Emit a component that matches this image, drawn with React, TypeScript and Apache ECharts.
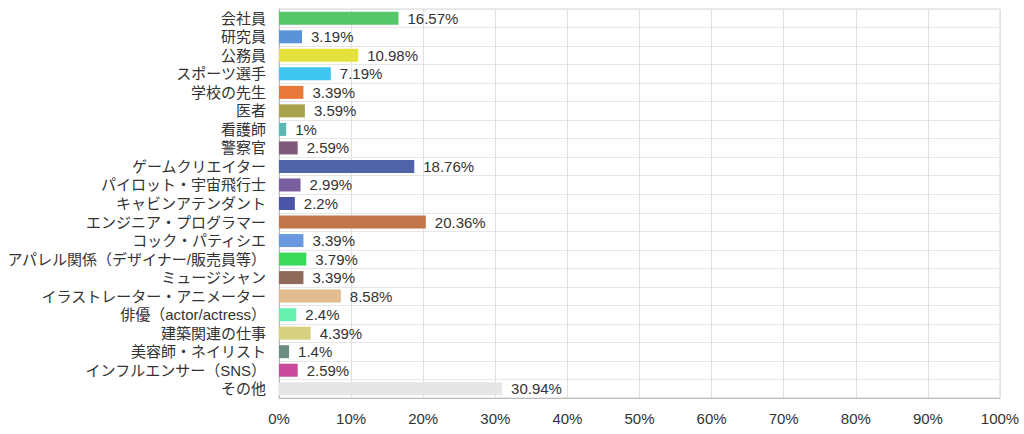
import React, { useEffect, useRef } from "react";
import * as echarts from "echarts";

const categories = [
  "会社員",
  "研究員",
  "公務員",
  "スポーツ選手",
  "学校の先生",
  "医者",
  "看護師",
  "警察官",
  "ゲームクリエイター",
  "パイロット・宇宙飛行士",
  "キャビンアテンダント",
  "エンジニア・プログラマー",
  "コック・パティシエ",
  "アパレル関係（デザイナー/販売員等）",
  "ミュージシャン",
  "イラストレーター・アニメーター",
  "俳優（actor/actress）",
  "建築関連の仕事",
  "美容師・ネイリスト",
  "インフルエンサー（SNS）",
  "その他",
];

const values = [
  16.57, 3.19, 10.98, 7.19, 3.39, 3.59, 1, 2.59, 18.76, 2.99, 2.2, 20.36, 3.39,
  3.79, 3.39, 8.58, 2.4, 4.39, 1.4, 2.59, 30.94,
];

const colors = [
  "#55c66a",
  "#5b93d9",
  "#e4e03c",
  "#3ec6ee",
  "#e8793a",
  "#a8a24a",
  "#5cb8b0",
  "#7e5a78",
  "#4f63a6",
  "#7a5fa0",
  "#4a55a8",
  "#c1754a",
  "#6a98e0",
  "#3ada5a",
  "#8f6a5a",
  "#e0bc8e",
  "#66f0b0",
  "#d6d080",
  "#6a8e80",
  "#c8489a",
  "#e6e6e6",
];

const xTicks = [0, 10, 20, 30, 40, 50, 60, 70, 80, 90, 100];

const FONT = "Arial, 'Liberation Sans', 'Noto Sans CJK JP', sans-serif";

export default function App() {
  const ref = useRef<HTMLDivElement>(null);
  useEffect(() => {
    document.body.style.margin = "0";
    if (!ref.current) return;
    const chart = echarts.init(ref.current, undefined, { renderer: "svg" });
    chart.setOption({
      animation: false,
      grid: {
        left: 279,
        right: 24,
        top: 9,
        bottom: 36,
        show: true,
        borderColor: "#d6d6d6",
        borderWidth: 1,
      },
      xAxis: {
        type: "value",
        min: xTicks[0],
        max: xTicks[xTicks.length - 1],
        interval: 10,
        axisLine: { show: true, lineStyle: { color: "#bbbbbb" } },
        axisTick: { show: false },
        splitLine: { show: true, lineStyle: { color: "#e0e0e0" } },
        axisLabel: {
          formatter: (v: number) => v + "%",
          color: "#333",
          fontSize: 15,
          fontFamily: FONT,
          margin: 13,
        },
      },
      yAxis: {
        type: "category",
        data: categories,
        inverse: true,
        axisLine: { show: true, lineStyle: { color: "#bbbbbb" } },
        axisTick: { show: false },
        splitLine: { show: true, lineStyle: { color: "#e6e6e6" } },
        axisLabel: {
          color: "#333",
          fontSize: 15,
          fontFamily: FONT,
          margin: 13,
          interval: 0,
        },
      },
      series: [
        {
          type: "bar",
          data: values.map((v, i) => ({ value: v, itemStyle: { color: colors[i] } })),
          barWidth: 13,
          label: {
            show: true,
            position: "right",
            distance: 9,
            formatter: (p: any) => p.value + "%",
            color: "#333",
            fontSize: 15,
            fontFamily: FONT,
          },
        },
      ],
    });
    return () => chart.dispose();
  }, []);
  return <div ref={ref} style={{ width: 1024, height: 434 }} />;
}
